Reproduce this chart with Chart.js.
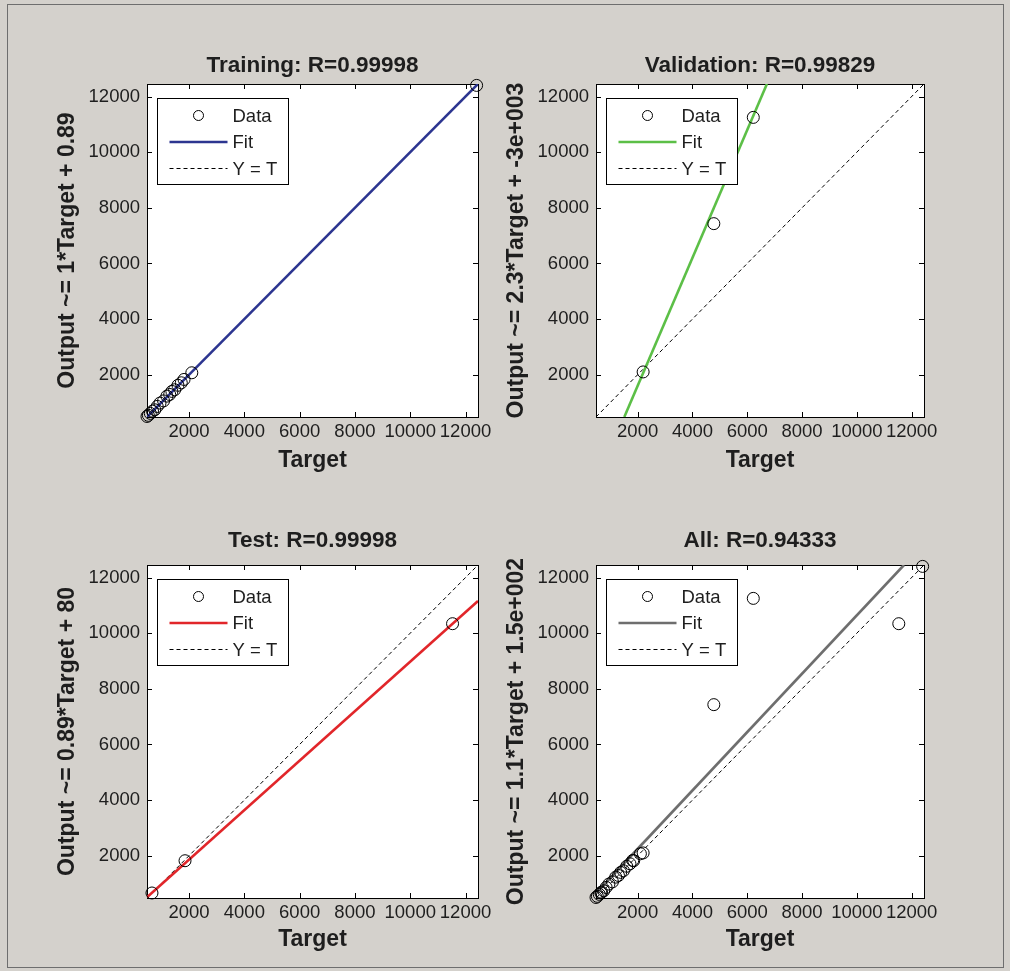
<!DOCTYPE html>
<html>
<head>
<meta charset="utf-8">
<title>Regression plots</title>
<script src="https://cdn.jsdelivr.net/npm/chart.js@4.4.1/dist/chart.umd.min.js"></script>
<style>
    html, body { margin: 0; padding: 0; }
    body {
        width: 1010px;
        height: 971px;
        background: #d4d1cc;
        position: relative;
        overflow: hidden;
    }
    #frame {
        position: absolute;
        left: 7px;
        top: 4px;
        width: 997px;
        height: 964px;
        border: 1px solid #6e6e6e;
        box-sizing: border-box;
    }
    canvas { position: absolute; }
</style>
</head>
<body>
<div id="frame"></div>
<canvas id="trainChart"></canvas>
<canvas id="valChart"></canvas>
<canvas id="testChart"></canvas>
<canvas id="allChart"></canvas>
<script>
// axis limits and ticks (shared by all four panels)
const axisMin = 480;
const axisMax = 12450;
const tickValues = [2000, 4000, 6000, 8000, 10000, 12000];

// training
const trainTarget = [480, 530, 600, 680, 760, 850, 950, 1080, 1200, 1300, 1380, 1480, 1600, 1720, 1820, 2100, 12400];
const trainOutput = [500, 540, 610, 690, 740, 860, 980, 1060, 1230, 1290, 1400, 1460, 1620, 1710, 1830, 2070, 12400];
const trainFit = [[480, 481], [12450, 12451]];

// validation
const valTarget = [2200, 4780, 6220];
const valOutput = [2100, 7430, 11250];
const valFit = [[1513, 480], [6717, 12450]];

// test
const testTarget = [660, 1855, 11530];
const testOutput = [660, 1820, 10340];
const testFit = [[480, 507], [12450, 11160]];

// all
const allTarget = trainTarget.concat(valTarget, testTarget);
const allOutput = trainOutput.concat(valOutput, testOutput);
const allFit = [[480, 650], [11720, 12450]];

const identityLine = [[axisMin, axisMin], [axisMax, axisMax]];

const textColor = "#1e1e1e";
const fontFamily = "'Liberation Sans', Arial, Helvetica, sans-serif";

function toPoints(xs, ys) {
    return xs.map((x, i) => ({ x, y: ys[i] }));
}

function pairsToPoints(pairs) {
    return pairs.map((p) => ({ x: p[0], y: p[1] }));
}

// white axes background, box and inward tick marks like the original figure
const axesBoxPlugin = {
    id: "axesBox",
    beforeDraw(chart) {
        const { ctx, chartArea: a } = chart;
        ctx.save();
        ctx.fillStyle = "#ffffff";
        ctx.fillRect(a.left, a.top, a.right - a.left, a.bottom - a.top);
        ctx.restore();
    },
    beforeDatasetsDraw(chart) {
        const { ctx, chartArea: a, scales } = chart;
        const len = 5;
        ctx.save();
        ctx.strokeStyle = "#000000";
        ctx.lineWidth = 1;
        ctx.beginPath();
        tickValues.forEach((v) => {
            const px = Math.round(scales.x.getPixelForValue(v)) + 0.5;
            const py = Math.round(scales.y.getPixelForValue(v)) + 0.5;
            ctx.moveTo(px, a.bottom);
            ctx.lineTo(px, a.bottom - len);
            ctx.moveTo(px, a.top);
            ctx.lineTo(px, a.top + len);
            ctx.moveTo(a.left, py);
            ctx.lineTo(a.left + len, py);
            ctx.moveTo(a.right, py);
            ctx.lineTo(a.right - len, py);
        });
        ctx.stroke();
        ctx.strokeRect(Math.round(a.left) + 0.5, Math.round(a.top) + 0.5,
            Math.round(a.right - a.left), Math.round(a.bottom - a.top));
        ctx.restore();
    }
};

// boxed legend in the upper left corner of the axes
const boxLegendPlugin = {
    id: "boxLegend",
    afterDatasetsDraw(chart) {
        const { ctx, chartArea: a } = chart;
        const x0 = Math.round(a.left) + 10.5;
        const y0 = Math.round(a.top) + 14.5;
        const w = 131;
        const h = 86;
        ctx.save();
        ctx.fillStyle = "#ffffff";
        ctx.fillRect(x0, y0, w, h);
        ctx.strokeStyle = "#000000";
        ctx.lineWidth = 1;
        ctx.strokeRect(x0, y0, w, h);

        ctx.font = "18.5px " + fontFamily;
        ctx.fillStyle = textColor;
        ctx.textBaseline = "middle";
        ctx.textAlign = "left";

        chart.data.datasets.forEach((ds, i) => {
            const cy = y0 + 17 + i * 26.5;
            ctx.save();
            if (ds.showLine) {
                ctx.strokeStyle = ds.borderColor;
                ctx.lineWidth = ds.borderWidth;
                ctx.setLineDash(ds.borderDash || []);
                ctx.beginPath();
                ctx.moveTo(x0 + 12, cy);
                ctx.lineTo(x0 + 70, cy);
                ctx.stroke();
            } else {
                ctx.strokeStyle = ds.borderColor;
                ctx.lineWidth = ds.borderWidth;
                ctx.beginPath();
                ctx.arc(x0 + 41, cy, 5, 0, Math.PI * 2);
                ctx.stroke();
            }
            ctx.restore();
            ctx.fillText(ds.label, x0 + 75, cy + 1);
        });
        ctx.restore();
    }
};

function makeChart(id, panel) {
    const a = panel.area;
    const cl = a.left - 130;
    const ct = a.top - 84;
    const cw = a.right + 30 - cl;
    const ch = a.bottom + 60 - ct;

    const canvas = document.getElementById(id);
    canvas.width = cw;
    canvas.height = ch;
    canvas.style.left = cl + "px";
    canvas.style.top = ct + "px";
    canvas.style.width = cw + "px";
    canvas.style.height = ch + "px";

    const titleSize = 22.5;
    const axisSize = 23;
    const titleLine = titleSize * 1.2;
    const axisLine = axisSize * 1.2;

    return new Chart(canvas, {
        type: "scatter",
        data: {
            datasets: [
                {
                    label: "Data",
                    data: toPoints(panel.target, panel.output),
                    showLine: false,
                    pointRadius: 6,
                    pointHoverRadius: 6,
                    borderColor: "#000000",
                    backgroundColor: "rgba(0,0,0,0)",
                    borderWidth: 1,
                    clip: false
                },
                {
                    label: "Fit",
                    data: pairsToPoints(panel.fit),
                    showLine: true,
                    pointRadius: 0,
                    borderColor: panel.color,
                    borderWidth: 2.6,
                    clip: 0
                },
                {
                    label: "Y = T",
                    data: pairsToPoints(identityLine),
                    showLine: true,
                    pointRadius: 0,
                    borderColor: "#000000",
                    borderWidth: 1,
                    borderDash: [4, 3],
                    clip: 0
                }
            ]
        },
        options: {
            responsive: false,
            animation: false,
            devicePixelRatio: 1,
            layout: {
                padding: { left: 0, right: cw - (a.right - cl), top: 0, bottom: 0 }
            },
            scales: {
                x: {
                    type: "linear",
                    min: axisMin,
                    max: axisMax,
                    afterBuildTicks: (scale) => {
                        scale.ticks = tickValues.map((v) => ({ value: v }));
                    },
                    afterFit: (scale) => {
                        scale.height = ch - (a.bottom - ct);
                    },
                    grid: { display: false, drawTicks: false },
                    border: { display: false },
                    ticks: {
                        color: textColor,
                        padding: 4,
                        maxRotation: 0,
                        autoSkip: false,
                        font: { family: fontFamily, size: 18.5 },
                        callback: (v) => String(v)
                    },
                    title: {
                        display: true,
                        text: "Target",
                        color: textColor,
                        font: { family: fontFamily, size: axisSize, weight: "bold" },
                        padding: { top: 0, bottom: (ch + ct) - panel.xTitleY - axisLine / 2 }
                    }
                },
                y: {
                    type: "linear",
                    min: axisMin,
                    max: axisMax,
                    afterBuildTicks: (scale) => {
                        scale.ticks = tickValues.map((v) => ({ value: v }));
                    },
                    afterFit: (scale) => {
                        scale.width = a.left - cl;
                    },
                    grid: { display: false, drawTicks: false },
                    border: { display: false },
                    ticks: {
                        color: textColor,
                        padding: 7,
                        autoSkip: false,
                        font: { family: fontFamily, size: 18.5 },
                        callback: (v) => String(v)
                    },
                    title: {
                        display: true,
                        text: panel.yLabel,
                        color: textColor,
                        font: { family: fontFamily, size: axisSize, weight: "bold" },
                        padding: { top: (a.left - 79 - cl) - axisLine / 2, bottom: 0 }
                    }
                }
            },
            plugins: {
                legend: { display: false },
                tooltip: { enabled: false },
                title: {
                    display: true,
                    text: panel.title,
                    fullSize: false,
                    color: textColor,
                    font: { family: fontFamily, size: titleSize, weight: "bold" },
                    padding: {
                        top: panel.titleY - ct - titleLine / 2,
                        bottom: a.top - panel.titleY - titleLine / 2
                    }
                }
            }
        },
        plugins: [axesBoxPlugin, boxLegendPlugin]
    });
}

makeChart("trainChart", {
    title: "Training: R=0.99998",
    yLabel: "Output ~= 1*Target + 0.89",
    target: trainTarget,
    output: trainOutput,
    fit: trainFit,
    color: "#2c3590",
    area: { left: 147, top: 84, right: 478, bottom: 417 },
    titleY: 66,
    xTitleY: 461
});

makeChart("valChart", {
    title: "Validation: R=0.99829",
    yLabel: "Output ~= 2.3*Target + -3e+003",
    target: valTarget,
    output: valOutput,
    fit: valFit,
    color: "#5cbf47",
    area: { left: 596, top: 84, right: 924, bottom: 417 },
    titleY: 66,
    xTitleY: 461
});

makeChart("testChart", {
    title: "Test: R=0.99998",
    yLabel: "Output ~= 0.89*Target + 80",
    target: testTarget,
    output: testOutput,
    fit: testFit,
    color: "#e1262a",
    area: { left: 147, top: 565, right: 478, bottom: 898 },
    titleY: 541,
    xTitleY: 940
});

makeChart("allChart", {
    title: "All: R=0.94333",
    yLabel: "Output ~= 1.1*Target + 1.5e+002",
    target: allTarget,
    output: allOutput,
    fit: allFit,
    color: "#6e6e6e",
    area: { left: 596, top: 565, right: 924, bottom: 898 },
    titleY: 541,
    xTitleY: 940
});
</script>
</body>
</html>
